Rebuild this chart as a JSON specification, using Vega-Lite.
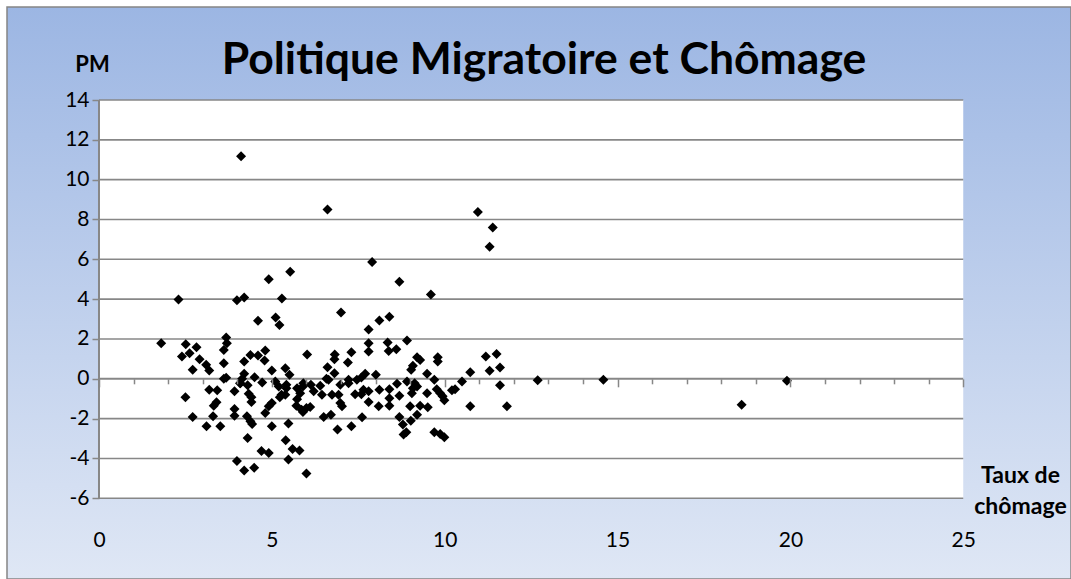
{
  "$schema": "https://vega.github.io/schema/vega-lite/v6.json",
  "width": 1064,
  "height": 572,
  "autosize": {"type": "none"},
  "padding": {"left": 7, "top": 7, "right": 0, "bottom": 0},
  "background": "#ffffff",
  "view": {
    "fill": {"gradient": "linear", "x1": 0, "y1": 0, "x2": 0, "y2": 1, "stops": [{"offset": 0, "color": "#9cb6e3"}, {"offset": 1, "color": "#dfe7f5"}]},
    "stroke": "#858585",
    "strokeWidth": 1.5
  },
  "title": {
    "text": "Politique Migratoire et Chômage",
    "font": "Lato",
    "fontSize": 44.5,
    "fontWeight": "bold",
    "color": "#000000",
    "anchor": "middle",
    "frame": "group",
    "baseline": "alphabetic",
    "offset": -111,
    "dx": 5
  },
  "config": {"font": "Lato"},
  "resolve": {"axis": {"x": "independent", "y": "independent"}},
  "layer": [
    {
      "data": {"values": [{}]},
      "mark": {"type": "rect", "fill": "#ffffff"},
      "encoding": {
        "x": {"datum": 0, "type": "quantitative", "scale": {"domain": [-2.661, 28.117], "nice": false, "zero": false}, "axis": null},
        "x2": {"datum": 25},
        "y": {"datum": -6, "type": "quantitative", "scale": {"domain": [-10.052, 18.67], "nice": false, "zero": false}, "axis": null},
        "y2": {"datum": 14}
      }
    },
    {
      "data": {"values": [{"g": -6}, {"g": -4}, {"g": -2}, {"g": 2}, {"g": 4}, {"g": 6}, {"g": 8}, {"g": 10}, {"g": 12}, {"g": 14}]},
      "mark": {"type": "rule", "stroke": "#878787", "strokeWidth": 1.6},
      "encoding": {
        "x": {"datum": 0, "type": "quantitative", "scale": {"domain": [-2.661, 28.117], "nice": false, "zero": false}, "axis": null},
        "x2": {"datum": 25},
        "y": {"field": "g", "type": "quantitative", "scale": {"domain": [-10.052, 18.67], "nice": false, "zero": false}, "axis": null}
      }
    },
    {
      "data": {"values": [{}]},
      "mark": {"type": "rule", "stroke": "#878787", "strokeWidth": 2},
      "encoding": {
        "x": {"datum": 0, "type": "quantitative", "scale": {"domain": [-2.661, 28.117], "nice": false, "zero": false}, "axis": null},
        "y": {"datum": -6, "type": "quantitative", "scale": {"domain": [-10.052, 18.67], "nice": false, "zero": false}, "axis": null},
        "y2": {"datum": 14}
      }
    },
    {
      "data": {"values": [{}]},
      "mark": {"type": "rule", "stroke": "#878787", "strokeWidth": 2},
      "encoding": {
        "x": {
          "datum": 0, "type": "quantitative",
          "scale": {"domain": [-2.661, 28.117], "nice": false, "zero": false},
          "axis": {
            "orient": "bottom", "offset": -200.2,
            "values": [0,1,2,3,4,5,6,7,8,9,10,11,12,13,14,15,16,17,18,19,20,21,22,23,24,25],
            "domain": false, "labels": false, "grid": false, "ticks": true,
            "tickSize": {"condition": {"test": "datum.value % 5 === 0", "value": 8}, "value": 5},
            "tickColor": "#878787", "tickWidth": 1.5, "title": null, "zindex": 1
          }
        },
        "x2": {"datum": 25},
        "y": {"datum": 0, "type": "quantitative", "scale": {"domain": [-10.052, 18.67], "nice": false, "zero": false}, "axis": null}
      }
    },
    {
      "data": {"values": [
        {"t": 4.11, "pm": 11.17}, {"t": 4.91, "pm": 5.0}, {"t": 5.53, "pm": 5.37}, {"t": 6.61, "pm": 8.5}, {"t": 10.96, "pm": 8.37},
        {"t": 7.9, "pm": 5.87}, {"t": 8.69, "pm": 4.87}, {"t": 11.39, "pm": 7.6}, {"t": 11.3, "pm": 6.63}, {"t": 11.19, "pm": 1.12},
        {"t": 11.5, "pm": 1.25}, {"t": 10.74, "pm": 0.33}, {"t": 11.3, "pm": 0.4}, {"t": 11.6, "pm": 0.57}, {"t": 11.6, "pm": -0.32},
        {"t": 12.69, "pm": -0.07}, {"t": 14.59, "pm": -0.05}, {"t": 10.74, "pm": -1.38}, {"t": 11.8, "pm": -1.38}, {"t": 18.59, "pm": -1.3},
        {"t": 19.9, "pm": -0.1},
        {"t": 2.3, "pm": 3.98}, {"t": 3.99, "pm": 3.95}, {"t": 4.2, "pm": 4.08}, {"t": 5.29, "pm": 4.03}, {"t": 4.6, "pm": 2.92},
        {"t": 5.11, "pm": 3.08}, {"t": 5.22, "pm": 2.7}, {"t": 3.68, "pm": 2.08}, {"t": 3.7, "pm": 1.78}, {"t": 3.61, "pm": 1.45},
        {"t": 1.8, "pm": 1.78}, {"t": 2.51, "pm": 1.73}, {"t": 2.82, "pm": 1.58}, {"t": 2.4, "pm": 1.12}, {"t": 2.62, "pm": 1.28},
        {"t": 2.91, "pm": 0.98}, {"t": 3.1, "pm": 0.7}, {"t": 3.19, "pm": 0.42}, {"t": 2.71, "pm": 0.45}, {"t": 3.61, "pm": 0.78},
        {"t": 4.2, "pm": 0.87}, {"t": 4.38, "pm": 1.2}, {"t": 4.6, "pm": 1.17}, {"t": 4.81, "pm": 1.42}, {"t": 4.79, "pm": 0.92},
        {"t": 5.0, "pm": 0.42}, {"t": 5.39, "pm": 0.53}, {"t": 4.2, "pm": 0.25}, {"t": 4.5, "pm": 0.08}, {"t": 3.61, "pm": 0.0},
        {"t": 3.68, "pm": 0.05}, {"t": 4.14, "pm": 0.0}, {"t": 4.09, "pm": -0.22}, {"t": 4.3, "pm": -0.32}, {"t": 4.72, "pm": -0.18},
        {"t": 5.1, "pm": -0.13}, {"t": 5.2, "pm": -0.38}, {"t": 5.42, "pm": -0.47}, {"t": 3.19, "pm": -0.55}, {"t": 3.42, "pm": -0.58},
        {"t": 3.92, "pm": -0.63}, {"t": 4.33, "pm": -0.75}, {"t": 4.41, "pm": -0.92}, {"t": 4.41, "pm": -1.17}, {"t": 2.5, "pm": -0.93},
        {"t": 3.4, "pm": -1.18}, {"t": 3.32, "pm": -1.35}, {"t": 5.23, "pm": -0.92}, {"t": 5.39, "pm": -0.8}, {"t": 5.0, "pm": -1.22},
        {"t": 4.91, "pm": -1.38}, {"t": 4.81, "pm": -1.72}, {"t": 3.92, "pm": -1.52}, {"t": 3.92, "pm": -1.85}, {"t": 2.71, "pm": -1.92},
        {"t": 3.3, "pm": -1.88}, {"t": 4.28, "pm": -1.88}, {"t": 4.38, "pm": -2.13}, {"t": 4.43, "pm": -2.27}, {"t": 3.11, "pm": -2.38},
        {"t": 3.51, "pm": -2.38}, {"t": 5.0, "pm": -2.38}, {"t": 5.48, "pm": -2.25}, {"t": 4.3, "pm": -2.97}, {"t": 5.4, "pm": -3.08},
        {"t": 4.7, "pm": -3.63}, {"t": 4.91, "pm": -3.72}, {"t": 5.48, "pm": -4.05}, {"t": 3.99, "pm": -4.13}, {"t": 4.2, "pm": -4.6},
        {"t": 4.49, "pm": -4.47},
        {"t": 9.6, "pm": 4.23}, {"t": 7.0, "pm": 3.33}, {"t": 8.11, "pm": 2.93}, {"t": 8.4, "pm": 3.12}, {"t": 7.8, "pm": 2.48},
        {"t": 8.91, "pm": 1.92}, {"t": 7.8, "pm": 1.78}, {"t": 8.35, "pm": 1.82}, {"t": 8.6, "pm": 1.48}, {"t": 7.8, "pm": 1.37},
        {"t": 8.38, "pm": 1.4}, {"t": 6.02, "pm": 1.22}, {"t": 6.82, "pm": 1.22}, {"t": 6.81, "pm": 0.98}, {"t": 7.3, "pm": 1.33},
        {"t": 7.2, "pm": 0.82}, {"t": 5.51, "pm": 0.2}, {"t": 6.61, "pm": 0.58}, {"t": 6.81, "pm": 0.28}, {"t": 6.58, "pm": 0.0},
        {"t": 7.22, "pm": -0.05}, {"t": 7.46, "pm": -0.05}, {"t": 7.59, "pm": 0.07}, {"t": 7.7, "pm": 0.25}, {"t": 8.01, "pm": 0.2},
        {"t": 9.2, "pm": 1.08}, {"t": 9.29, "pm": 0.95}, {"t": 9.8, "pm": 1.08}, {"t": 9.8, "pm": 0.87}, {"t": 9.08, "pm": 0.65},
        {"t": 9.03, "pm": 0.45}, {"t": 9.49, "pm": 0.25}, {"t": 10.5, "pm": -0.13}, {"t": 10.3, "pm": -0.52}, {"t": 10.21, "pm": -0.58},
        {"t": 9.7, "pm": -0.05}, {"t": 9.77, "pm": -0.52}, {"t": 9.87, "pm": -0.72}, {"t": 9.94, "pm": -0.88}, {"t": 9.99, "pm": -1.08},
        {"t": 9.49, "pm": -0.72}, {"t": 8.91, "pm": -0.13}, {"t": 9.13, "pm": -0.22}, {"t": 9.08, "pm": -0.47}, {"t": 9.05, "pm": -0.72},
        {"t": 9.2, "pm": -0.38}, {"t": 8.62, "pm": -0.25}, {"t": 8.69, "pm": -0.85}, {"t": 8.4, "pm": -0.52}, {"t": 8.4, "pm": -0.97},
        {"t": 8.4, "pm": -1.35}, {"t": 8.11, "pm": -0.55}, {"t": 8.09, "pm": -1.38}, {"t": 7.8, "pm": -0.63}, {"t": 7.8, "pm": -1.17},
        {"t": 7.59, "pm": -0.77}, {"t": 7.41, "pm": -0.77}, {"t": 7.61, "pm": -1.93}, {"t": 7.3, "pm": -2.38}, {"t": 6.9, "pm": -2.55},
        {"t": 6.5, "pm": -1.92}, {"t": 6.71, "pm": -1.8}, {"t": 7.03, "pm": -1.38}, {"t": 6.98, "pm": -1.22}, {"t": 6.74, "pm": -0.8},
        {"t": 6.93, "pm": -0.8}, {"t": 6.98, "pm": -0.3}, {"t": 6.64, "pm": -0.05}, {"t": 6.4, "pm": -0.35}, {"t": 6.45, "pm": -0.8},
        {"t": 6.21, "pm": -0.63}, {"t": 6.13, "pm": -0.3}, {"t": 6.11, "pm": -1.42}, {"t": 5.9, "pm": -0.38}, {"t": 5.9, "pm": -1.67},
        {"t": 5.82, "pm": -0.72}, {"t": 5.73, "pm": -1.02}, {"t": 5.71, "pm": -1.35}, {"t": 5.73, "pm": -0.47}, {"t": 5.42, "pm": -0.3},
        {"t": 5.6, "pm": -3.52}, {"t": 5.8, "pm": -3.6}, {"t": 6.0, "pm": -4.75}, {"t": 7.22, "pm": -0.22}, {"t": 7.65, "pm": -0.55},
        {"t": 8.69, "pm": -1.92}, {"t": 8.79, "pm": -2.3}, {"t": 8.81, "pm": -2.8}, {"t": 8.89, "pm": -2.68}, {"t": 9.0, "pm": -1.38},
        {"t": 9.02, "pm": -2.1}, {"t": 9.2, "pm": -1.8}, {"t": 9.29, "pm": -1.35}, {"t": 9.51, "pm": -1.43}, {"t": 9.7, "pm": -2.68},
        {"t": 9.87, "pm": -2.77}, {"t": 9.99, "pm": -2.93}, {"t": 5.91, "pm": -0.22}, {"t": 5.86, "pm": -1.55}, {"t": 6.0, "pm": -1.47},
        {"t": 4.08, "pm": -0.22}, {"t": 5.28, "pm": -0.8}
      ]},
      "mark": {"type": "point", "shape": "diamond", "filled": true, "color": "#000000", "size": 100, "opacity": 1},
      "encoding": {
        "x": {
          "field": "t", "type": "quantitative",
          "scale": {"domain": [-2.661, 28.117], "nice": false, "zero": false},
          "axis": {
            "orient": "bottom", "offset": -50,
            "values": [0, 5, 10, 15, 20, 25],
            "domain": false, "ticks": false, "tickSize": 0, "grid": false,
            "labelPadding": 0, "labelFontSize": 21, "labelFont": "Lato", "labelColor": "#000000",
            "labelFlush": false, "labelOverlap": false, "labelBound": false,
            "title": ["Taux de", "chômage"],
            "titleX": 1013, "titleY": -47, "titleAlign": "center", "titleBaseline": "alphabetic",
            "titleFontSize": 23, "titleLineHeight": 31, "titleFontWeight": "bold", "titleFont": "Lato", "titleColor": "#000000",
            "zindex": 1
          }
        },
        "y": {
          "field": "pm", "type": "quantitative",
          "scale": {"domain": [-10.052, 18.67], "nice": false, "zero": false},
          "axis": {
            "orient": "left", "offset": -92,
            "values": [-6, -4, -2, 0, 2, 4, 6, 8, 10, 12, 14],
            "labelExpr": "datum.value < 0 ? '-' + abs(datum.value) : '' + datum.value",
            "domain": false, "grid": false, "ticks": true, "tickSize": 7, "tickColor": "#878787", "tickWidth": 1.5,
            "labelFontSize": 21, "labelFont": "Lato", "labelColor": "#000000", "labelPadding": 3,
            "labelFlush": false, "labelOverlap": false, "labelBound": false,
            "title": "PM", "titleAngle": 0, "titleX": -7, "titleY": 64, "titleAlign": "center", "titleBaseline": "alphabetic",
            "titleFontSize": 22, "titleFontWeight": "bold", "titleFont": "Lato", "titleColor": "#000000",
            "zindex": 1
          }
        }
      }
    }
  ]
}
